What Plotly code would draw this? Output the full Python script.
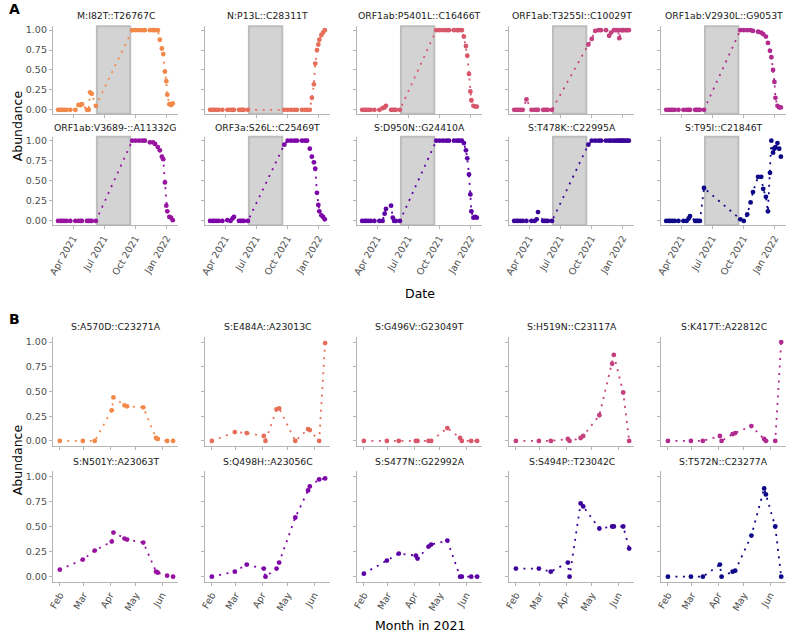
import plotly.graph_objects as go

# ---------------- Panel A data ----------------
A_DATES = ["2021-02-16", "2021-02-23", "2021-02-28", "2021-03-06", "2021-03-13", "2021-03-24",
           "2021-04-08", "2021-04-17", "2021-04-23", "2021-04-27", "2021-05-12", "2021-05-17",
           "2021-05-21", "2021-05-26", "2021-06-07",
           "2021-09-22", "2021-10-02", "2021-10-12", "2021-10-22", "2021-10-29", "2021-11-13",
           "2021-11-22", "2021-11-28", "2021-12-06", "2021-12-12", "2021-12-18", "2021-12-22",
           "2021-12-27", "2021-12-31", "2022-01-03", "2022-01-09", "2022-01-14", "2022-01-19"]
GAP_START = "2021-06-10"
GAP_END = "2021-09-16"

M_I82T = [0, 0, 0, 0, 0, 0, 0, 0.06, 0.06, 0.07, 0, 0, 0.22, 0.2, 0.05,
          1, 1, 1, 1, 1, 1, 1, 1, 1, 0.88, 0.77, 0.7, 0.48, 0.36, 0.19, 0.07, 0.06, 0.08]
N_P13L = [0, 0, 0, 0, 0, 0, 0, 0, 0, 0, 0, 0, 0, 0, 0,
          0, 0, 0, 0, 0, 0, 0, 0, 0, 0.15, 0.32, 0.58, 0.75, 0.82, 0.88, 0.94, 0.97, 1.0]
ORF1AB_P5401L = [0, 0, 0, 0, 0, 0, 0, 0.02, 0.03, 0.05, 0, 0, 0, 0, 0,
                 1, 1, 1, 1, 1, 1, 1, 1, 1, 0.92, 0.8, 0.68, 0.45, 0.23, 0.12, 0.05, 0.04, 0.04]
ORF1AB_T3255I = [0, 0, 0, 0, 0, 0.13, 0, 0, 0, 0, 0, 0, 0, 0, 0,
                 0.82, 0.89, 0.99, 1, 1, 1, 0.93, 0.97, 1, 1, 1, 0.9, 1, 1, 1, 1, 1, 1]
ORF1AB_V2930L = [0, 0, 0, 0, 0, 0, 0, 0, 0, 0, 0, 0, 0, 0, 0,
                 1, 1, 1, 1, 0.99, 0.98, 0.97, 0.95, 0.92, 0.84, 0.74, 0.66, 0.5, 0.35, 0.15, 0.05, 0.03, 0.03]
ORF1AB_V3689 = [0, 0, 0, 0, 0, 0, 0, 0, 0, 0, 0, 0, 0, 0, 0,
                1, 1, 1, 1, 1, 0.98, 0.98, 0.96, 0.92, 0.88, 0.8, 0.77, 0.48, 0.19, 0.12, 0.05, 0.04, 0.01]
ORF3A_S26L = [0, 0, 0, 0, 0, 0, 0.01, 0, 0.03, 0.05, 0, 0, 0, 0, 0,
              0.95, 1, 1, 1, 1, 1, 1, 1, 0.9, 0.8, 0.73, 0.65, 0.35, 0.2, 0.12, 0.07, 0.05, 0.02]
S_D950N = [0, 0, 0, 0, 0, 0, 0, 0, 0.09, 0.15, 0.19, 0.04, 0, 0, 0,
           1, 1, 1, 1, 1, 1, 1, 1, 1, 0.97, 0.88, 0.78, 0.58, 0.33, 0.12, 0.04, 0.05, 0.04]
S_T478K = [0, 0, 0, 0, 0, 0, 0, 0, 0.02, 0.11, 0, 0, 0, 0, 0,
           0.95, 1, 1, 1, 1, 1, 1, 1, 1, 1, 1, 1, 1, 1, 1, 1, 1, 1]
S_T95I = [0, 0, 0, 0, 0, 0, 0, 0, 0.03, 0.06, 0, 0, 0, 0, 0.41,
          0.02, 0.0, 0.08, 0.23, 0.36, 0.55, 0.55, 0.4, 0.3, 0.12, 0.6, 1.0, 0.85, 0.9, 0.92, 0.97, 0.9, 0.8]

A_TITLES = ["M:I82T::T26767C", "N:P13L::C28311T", "ORF1ab:P5401L::C16466T",
            "ORF1ab:T3255I::C10029T", "ORF1ab:V2930L::G9053T", "ORF1ab:V3689-::A11332G",
            "ORF3a:S26L::C25469T", "S:D950N::G24410A", "S:T478K::C22995A", "S:T95I::C21846T"]
A_SERIES = [M_I82T, N_P13L, ORF1AB_P5401L, ORF1AB_T3255I, ORF1AB_V2930L,
            ORF1AB_V3689, ORF3A_S26L, S_D950N, S_T478K, S_T95I]
A_TICKVALS = ["2021-04-01", "2021-07-01", "2021-10-01", "2022-01-01"]
A_TICKTEXT = ["Apr 2021", "Jul 2021", "Oct 2021", "Jan 2022"]

# ---------------- Panel B data ----------------
B_DATES = ["2021-02-01", "2021-02-28", "2021-03-14", "2021-04-03", "2021-04-05", "2021-04-18",
           "2021-04-21", "2021-05-10", "2021-05-25", "2021-05-27", "2021-06-07", "2021-06-14"]

S_A570D = [0, 0, 0, 0.31, 0.44, 0.36, 0.35, 0.34, 0.03, 0.02, 0.0, 0.0]
S_E484A = [0, 0.09, 0.08, 0.05, 0.0, 0.32, 0.33, 0.0, 0.12, 0.11, 0.0, 0.99]
S_G496V = [0, 0, 0, 0, 0, 0, 0, 0.13, 0.03, 0, 0, 0]
S_H519N = [0, 0, 0, 0.02, 0.0, 0.03, 0.05, 0.26, 0.78, 0.87, 0.49, 0.0]
S_K417T = [0, 0, 0, 0.05, 0.0, 0.07, 0.08, 0.15, 0.02, 0.0, 0.0, 1.0]
S_N501Y = [0.07, 0.17, 0.26, 0.35, 0.44, 0.38, 0.37, 0.34, 0.05, 0.04, 0.01, 0.0]
S_Q498H = [0.0, 0.05, 0.12, 0.08, 0.0, 0.08, 0.14, 0.59, 0.86, 0.9, 0.97, 0.98]
S_S477N = [0.03, 0.16, 0.23, 0.21, 0.18, 0.3, 0.32, 0.36, 0.0, 0.0, 0.0, 0.0]
S_S494P = [0.08, 0.08, 0.05, 0.14, 0.0, 0.73, 0.7, 0.48, 0.5, 0.5, 0.5, 0.28]
S_T572N = [0, 0, 0, 0.12, 0.0, 0.05, 0.06, 0.41, 0.88, 0.82, 0.5, 0.0]

B_TITLES = ["S:A570D::C23271A", "S:E484A::A23013C", "S:G496V::G23049T", "S:H519N::C23117A",
            "S:K417T::A22812C", "S:N501Y::A23063T", "S:Q498H::A23056C", "S:S477N::G22992A",
            "S:S494P::T23042C", "S:T572N::C23277A"]
B_SERIES = [S_A570D, S_E484A, S_G496V, S_H519N, S_K417T,
            S_N501Y, S_Q498H, S_S477N, S_S494P, S_T572N]
B_TICKVALS = ["2021-02-01", "2021-03-01", "2021-04-01", "2021-05-01", "2021-06-01"]
B_TICKTEXT = ["Feb", "Mar", "Apr", "May", "Jun"]

Y_TICKVALS = [0, 0.25, 0.5, 0.75, 1.0]
Y_TICKTEXT = ["0.00", "0.25", "0.50", "0.75", "1.00"]

# ---------------- styling / layout ----------------
PALETTE = ["#F48849", "#E76F5A", "#D8576B", "#C5407E", "#B12A90",
           "#9814A0", "#7E03A8", "#5C01A6", "#3B049A", "#0D0887"]
W, H = 789, 636
FONT = "DejaVu Sans"
COL_LEFT = [48.3, 201.3, 354.3, 507.3, 660.3]
COL_W = 126.0
ROW_PX = [(24.3, 112.3), (135.3, 224.0), (336.7, 446.0), (471.6, 582.4)]
TITLE_Y = [13.5, 126.0, 325.7, 461.5]
AXCOL = "#b5b5b5"
TICKFONT = dict(family=FONT, size=9.5, color="#4d4d4d")

fig = go.Figure()
layout = dict(width=W, height=H, margin=dict(l=0, r=0, t=0, b=0),
              paper_bgcolor="white", plot_bgcolor="white", showlegend=False,
              font=dict(family=FONT))
shapes, annotations = [], []

for k in range(20):
    grp = k // 10
    idx = k % 10
    row = grp * 2 + idx // 5
    col = idx % 5
    n = k + 1
    xs = "" if n == 1 else str(n)
    dates = A_DATES if grp == 0 else B_DATES
    vals = A_SERIES[idx] if grp == 0 else B_SERIES[idx]
    title = A_TITLES[idx] if grp == 0 else B_TITLES[idx]
    color = PALETTE[idx]

    fig.add_trace(go.Scatter(
        x=dates, y=vals, mode="lines+markers",
        line=dict(color=color, width=1.8, dash="2px,5.5px"),
        marker=dict(size=4.8, color=color),
        xaxis="x" + xs, yaxis="y" + xs, hoverinfo="x+y"))

    x0 = COL_LEFT[col] / W
    x1 = (COL_LEFT[col] + COL_W) / W
    top, bot = ROW_PX[row]
    y0 = 1 - bot / H
    y1 = 1 - top / H
    bottom_row = (row % 2 == 1)

    if grp == 0:
        xr = ["2021-02-01", "2022-02-04"]
        tv, tt = A_TICKVALS, A_TICKTEXT
    else:
        xr = ["2021-01-24", "2021-06-20"]
        tv, tt = B_TICKVALS, B_TICKTEXT

    layout["xaxis" + xs] = dict(
        domain=[x0, x1], anchor="y" + xs, type="date", range=xr,
        tickmode="array", tickvals=tv, ticktext=tt, tickangle=-60,
        showticklabels=bottom_row, ticks="outside", ticklen=3, tickwidth=1,
        tickcolor=AXCOL, showline=True, linecolor=AXCOL, linewidth=1.3,
        showgrid=False, zeroline=False, tickfont=TICKFONT, fixedrange=True)
    layout["yaxis" + xs] = dict(
        domain=[y0, y1], anchor="x" + xs, range=[-0.05, 1.05],
        tickmode="array", tickvals=Y_TICKVALS, ticktext=Y_TICKTEXT,
        showticklabels=(col == 0), ticks="outside", ticklen=3, tickwidth=1,
        tickcolor=AXCOL, showline=True, linecolor=AXCOL, linewidth=1.3,
        showgrid=False, zeroline=False, tickfont=TICKFONT, fixedrange=True)

    if grp == 0:
        shapes.append(dict(type="rect", xref="x" + xs, yref="y" + xs + " domain",
                           x0=GAP_START, x1=GAP_END, y0=0, y1=1,
                           fillcolor="#d3d3d3", line=dict(color="#bdbdbd", width=2),
                           layer="below"))

    annotations.append(dict(text=title, xref="paper", yref="paper",
                            x=(x0 + x1) / 2, y=1 - TITLE_Y[row] / H,
                            xanchor="center", yanchor="middle", showarrow=False,
                            font=dict(family=FONT, size=9.3, color="#1a1a1a")))

# panel letters and axis titles
annotations += [
    dict(text="<b>A</b>", x=2 / W, y=1 - 7 / H, xanchor="left", yanchor="middle"),
    dict(text="<b>B</b>", x=2 / W, y=1 - 319 / H, xanchor="left", yanchor="middle"),
]
for a in annotations[-2:]:
    a.update(xref="paper", yref="paper", showarrow=False,
             font=dict(family=FONT, size=14, color="black"))

for txt, x, y, ang in [("Abundance", 12, 124, -90), ("Abundance", 12, 459.5, -90),
                       ("Date", 417.3, 293, 0), ("Month in 2021", 417.3, 626, 0)]:
    annotations.append(dict(text=txt, xref="paper", yref="paper", x=x / W, y=1 - y / H,
                            xanchor="center", yanchor="middle", textangle=ang,
                            showarrow=False,
                            font=dict(family=FONT, size=12.5, color="black")))

layout["shapes"] = shapes
layout["annotations"] = annotations
fig.update_layout(**layout)
fig.write_html("out.html", config={"displayModeBar": False},
               post_script="document.body.style.margin='0px';document.body.style.padding='0px';")
